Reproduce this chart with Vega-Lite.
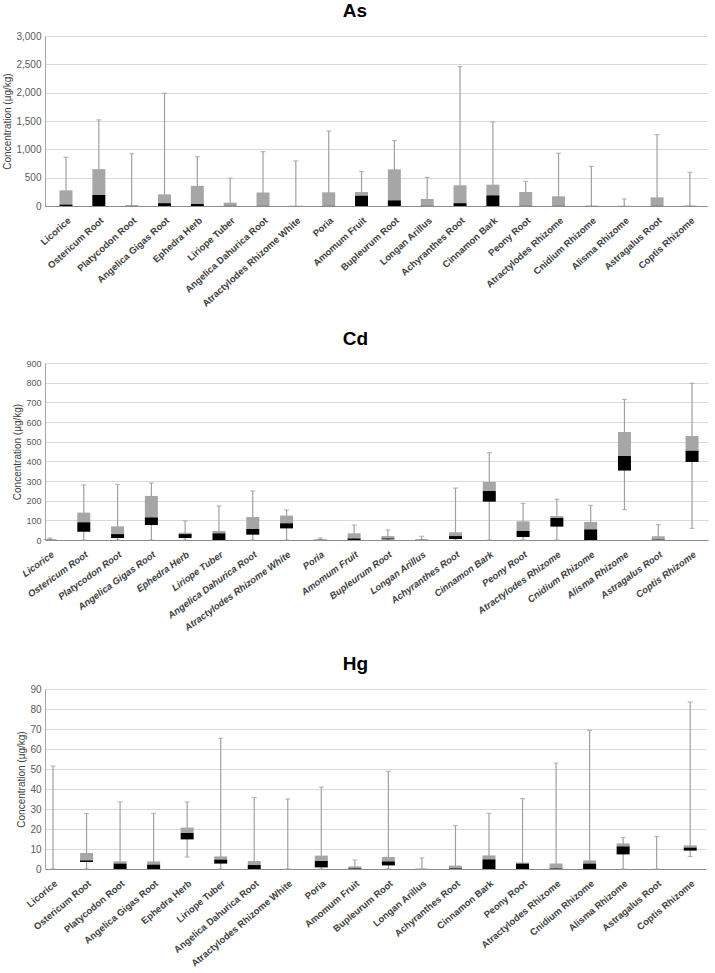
{
  "$schema": "https://vega.github.io/schema/vega-lite/v6.json",
  "padding": {"left": 2, "top": 2, "right": 2, "bottom": 2},
  "background": "white",
  "spacing": 22,
  "datasets": {
    "stats": [
      {"metal": "As", "herb": "Licorice", "min": 0, "q1": 0, "med": 25, "q3": 276, "max": 860},
      {"metal": "As", "herb": "Ostericum Root", "min": 0, "q1": 0, "med": 194, "q3": 650, "max": 1520},
      {"metal": "As", "herb": "Platycodon Root", "min": 0, "q1": 0, "med": 4, "q3": 12, "max": 920},
      {"metal": "As", "herb": "Angelica Gigas Root", "min": 0, "q1": 0, "med": 50, "q3": 206, "max": 1990},
      {"metal": "As", "herb": "Ephedra Herb", "min": 0, "q1": 0, "med": 35, "q3": 355, "max": 870},
      {"metal": "As", "herb": "Liriope Tuber", "min": 0, "q1": 0, "med": 3, "q3": 59, "max": 490},
      {"metal": "As", "herb": "Angelica Dahurica Root", "min": 0, "q1": 0, "med": 3, "q3": 238, "max": 960},
      {"metal": "As", "herb": "Atractylodes Rhizome White", "min": 0, "q1": 0, "med": 2, "q3": 6, "max": 795},
      {"metal": "As", "herb": "Poria", "min": 0, "q1": 0, "med": 3, "q3": 241, "max": 1325},
      {"metal": "As", "herb": "Amomum Fruit", "min": 0, "q1": 0, "med": 182, "q3": 247, "max": 606},
      {"metal": "As", "herb": "Bupleurum Root", "min": 0, "q1": 0, "med": 100, "q3": 647, "max": 1155},
      {"metal": "As", "herb": "Longan Arillus", "min": 0, "q1": 0, "med": 3, "q3": 124, "max": 506},
      {"metal": "As", "herb": "Achyranthes Root", "min": 0, "q1": 0, "med": 50, "q3": 365, "max": 2460},
      {"metal": "As", "herb": "Cinnamon Bark", "min": 0, "q1": 0, "med": 188, "q3": 376, "max": 1480},
      {"metal": "As", "herb": "Peony Root", "min": 0, "q1": 0, "med": 3, "q3": 247, "max": 435},
      {"metal": "As", "herb": "Atractylodes Rhizome", "min": 0, "q1": 0, "med": 3, "q3": 171, "max": 930},
      {"metal": "As", "herb": "Cnidium Rhizome", "min": 0, "q1": 0, "med": 2, "q3": 5, "max": 700},
      {"metal": "As", "herb": "Alisma Rhizome", "min": 0, "q1": 0, "med": 1, "q3": 2, "max": 125},
      {"metal": "As", "herb": "Astragalus Root", "min": 0, "q1": 0, "med": 3, "q3": 153, "max": 1260},
      {"metal": "As", "herb": "Coptis Rhizome", "min": 0, "q1": 0, "med": 2, "q3": 6, "max": 595},

      {"metal": "Cd", "herb": "Licorice", "min": 0, "q1": 0, "med": 1, "q3": 3, "max": 10},
      {"metal": "Cd", "herb": "Ostericum Root", "min": 0, "q1": 42, "med": 90, "q3": 139, "max": 280},
      {"metal": "Cd", "herb": "Platycodon Root", "min": 0, "q1": 10, "med": 30, "q3": 69, "max": 283},
      {"metal": "Cd", "herb": "Angelica Gigas Root", "min": 0, "q1": 76, "med": 115, "q3": 224, "max": 290},
      {"metal": "Cd", "herb": "Ephedra Herb", "min": 0, "q1": 10, "med": 30, "q3": 37, "max": 97},
      {"metal": "Cd", "herb": "Liriope Tuber", "min": 0, "q1": 0, "med": 34, "q3": 46, "max": 173},
      {"metal": "Cd", "herb": "Angelica Dahurica Root", "min": 0, "q1": 27, "med": 56, "q3": 117, "max": 249},
      {"metal": "Cd", "herb": "Atractylodes Rhizome White", "min": 0, "q1": 59, "med": 85, "q3": 124, "max": 153},
      {"metal": "Cd", "herb": "Poria", "min": 0, "q1": 0, "med": 1, "q3": 3, "max": 10},
      {"metal": "Cd", "herb": "Amomum Fruit", "min": 0, "q1": 0, "med": 8, "q3": 34, "max": 76},
      {"metal": "Cd", "herb": "Bupleurum Root", "min": 0, "q1": 3, "med": 8, "q3": 20, "max": 51},
      {"metal": "Cd", "herb": "Longan Arillus", "min": 0, "q1": 0, "med": 1, "q3": 3, "max": 19},
      {"metal": "Cd", "herb": "Achyranthes Root", "min": 0, "q1": 5, "med": 20, "q3": 39, "max": 264},
      {"metal": "Cd", "herb": "Cinnamon Bark", "min": 0, "q1": 195, "med": 249, "q3": 295, "max": 444},
      {"metal": "Cd", "herb": "Peony Root", "min": 0, "q1": 15, "med": 46, "q3": 95, "max": 186},
      {"metal": "Cd", "herb": "Atractylodes Rhizome", "min": 0, "q1": 68, "med": 112, "q3": 122, "max": 207},
      {"metal": "Cd", "herb": "Cnidium Rhizome", "min": 0, "q1": 0, "med": 54, "q3": 92, "max": 176},
      {"metal": "Cd", "herb": "Alisma Rhizome", "min": 154, "q1": 353, "med": 427, "q3": 549, "max": 715},
      {"metal": "Cd", "herb": "Astragalus Root", "min": 0, "q1": 0, "med": 2, "q3": 19, "max": 78},
      {"metal": "Cd", "herb": "Coptis Rhizome", "min": 59, "q1": 397, "med": 454, "q3": 529, "max": 797},

      {"metal": "Hg", "herb": "Licorice", "min": 0, "q1": 0, "med": 0, "q3": 0, "max": 51.5},
      {"metal": "Hg", "herb": "Ostericum Root", "min": 0, "q1": 3.5, "med": 4.3, "q3": 8, "max": 27.7},
      {"metal": "Hg", "herb": "Platycodon Root", "min": 0, "q1": 0, "med": 2.7, "q3": 3.8, "max": 33.5},
      {"metal": "Hg", "herb": "Angelica Gigas Root", "min": 0, "q1": 0, "med": 2.2, "q3": 3.8, "max": 27.8},
      {"metal": "Hg", "herb": "Ephedra Herb", "min": 6, "q1": 14.8, "med": 18, "q3": 20.7, "max": 33.5},
      {"metal": "Hg", "herb": "Liriope Tuber", "min": 0, "q1": 2.7, "med": 4.7, "q3": 6.3, "max": 65.3},
      {"metal": "Hg", "herb": "Angelica Dahurica Root", "min": 0, "q1": 0, "med": 2, "q3": 4, "max": 35.7},
      {"metal": "Hg", "herb": "Atractylodes Rhizome White", "min": 0, "q1": 0, "med": 0, "q3": 0, "max": 35},
      {"metal": "Hg", "herb": "Poria", "min": 0, "q1": 0.8, "med": 4, "q3": 6.7, "max": 41},
      {"metal": "Hg", "herb": "Amomum Fruit", "min": 0, "q1": 0, "med": 0.3, "q3": 1.3, "max": 4.5},
      {"metal": "Hg", "herb": "Bupleurum Root", "min": 0, "q1": 1.8, "med": 3.8, "q3": 6, "max": 48.8},
      {"metal": "Hg", "herb": "Longan Arillus", "min": 0, "q1": 0, "med": 0, "q3": 0.2, "max": 5.5},
      {"metal": "Hg", "herb": "Achyranthes Root", "min": 0, "q1": 0, "med": 0.3, "q3": 1.7, "max": 21.7},
      {"metal": "Hg", "herb": "Cinnamon Bark", "min": 0, "q1": 0, "med": 4.8, "q3": 6.8, "max": 27.8},
      {"metal": "Hg", "herb": "Peony Root", "min": 0, "q1": 0, "med": 2.7, "q3": 3.2, "max": 35.2},
      {"metal": "Hg", "herb": "Atractylodes Rhizome", "min": 0, "q1": 0, "med": 0.3, "q3": 2.8, "max": 53},
      {"metal": "Hg", "herb": "Cnidium Rhizome", "min": 0, "q1": 0, "med": 2.7, "q3": 4.3, "max": 69.3},
      {"metal": "Hg", "herb": "Alisma Rhizome", "min": 0, "q1": 7.3, "med": 11.3, "q3": 12.8, "max": 15.7},
      {"metal": "Hg", "herb": "Astragalus Root", "min": 0, "q1": 0, "med": 0, "q3": 0, "max": 16.3},
      {"metal": "Hg", "herb": "Coptis Rhizome", "min": 6.2, "q1": 9.2, "med": 10.7, "q3": 11.8, "max": 83.5}
    ]
  },
  "vconcat": [
    {
      "title": {"text": "As", "dx": -21},
      "width": 662,
      "height": 170,
      "data": {"name": "stats"},
      "transform": [{"filter": "datum.metal === 'As'"}],
      "encoding": {
        "x": {"field": "herb", "type": "nominal", "sort": null, "title": null, "scale": {"paddingInner": 0.9, "paddingOuter": 0.53, "align": 0.556}, "axis": {"labelFontStyle": "normal", "labelAngle": -42}}
      },
      "layer": [
        {"mark": {"type": "rule", "color": "#a0a0a0", "strokeWidth": 1.2},
         "encoding": {"y": {"field": "min", "type": "quantitative", "title": "Concentration (μg/kg)", "scale": {"domain": [0, 3000]}, "axis": {"values": [0, 500, 1000, 1500, 2000, 2500, 3000], "format": ",.0f", "labelOverlap": false}}, "y2": {"field": "max"}}},
        {"mark": {"type": "tick", "color": "#a0a0a0", "size": 5, "thickness": 1.2},
         "encoding": {"y": {"field": "max", "type": "quantitative", "title": "Concentration (μg/kg)", "scale": {"domain": [0, 3000]}, "axis": {"values": [0, 500, 1000, 1500, 2000, 2500, 3000], "format": ",.0f", "labelOverlap": false}}}},
        {"mark": {"type": "bar", "color": "#a6a6a6", "size": 13},
         "encoding": {"y": {"field": "med", "type": "quantitative", "title": "Concentration (μg/kg)", "scale": {"domain": [0, 3000]}, "axis": {"values": [0, 500, 1000, 1500, 2000, 2500, 3000], "format": ",.0f", "labelOverlap": false}}, "y2": {"field": "q3"}}},
        {"mark": {"type": "bar", "color": "#000000", "size": 13},
         "encoding": {"y": {"field": "q1", "type": "quantitative", "title": "Concentration (μg/kg)", "scale": {"domain": [0, 3000]}, "axis": {"values": [0, 500, 1000, 1500, 2000, 2500, 3000], "format": ",.0f", "labelOverlap": false}}, "y2": {"field": "med"}}}
      ]
    },
    {
      "title": {"text": "Cd", "dx": -21},
      "width": 663,
      "height": 177,
      "data": {"name": "stats"},
      "transform": [{"filter": "datum.metal === 'Cd'"}],
      "encoding": {
        "x": {"field": "herb", "type": "nominal", "sort": null, "title": null, "scale": {"paddingInner": 0.9, "paddingOuter": 0.26, "align": 0.188}, "axis": {"labelFontStyle": "italic", "labelAngle": -36}}
      },
      "layer": [
        {"mark": {"type": "rule", "color": "#a0a0a0", "strokeWidth": 1.2},
         "encoding": {"y": {"field": "min", "type": "quantitative", "title": "Concentration (μg/kg)", "scale": {"domain": [0, 900]}, "axis": {"values": [0, 100, 200, 300, 400, 500, 600, 700, 800, 900], "labelOverlap": false, "labelFontSize": 9}}, "y2": {"field": "max"}}},
        {"mark": {"type": "tick", "color": "#a0a0a0", "size": 5, "thickness": 1.2},
         "encoding": {"y": {"field": "max", "type": "quantitative", "title": "Concentration (μg/kg)", "scale": {"domain": [0, 900]}, "axis": {"values": [0, 100, 200, 300, 400, 500, 600, 700, 800, 900], "labelOverlap": false, "labelFontSize": 9}}}},
        {"mark": {"type": "tick", "color": "#a0a0a0", "size": 5, "thickness": 1.2},
         "encoding": {"y": {"field": "min", "type": "quantitative", "title": "Concentration (μg/kg)", "scale": {"domain": [0, 900]}, "axis": {"values": [0, 100, 200, 300, 400, 500, 600, 700, 800, 900], "labelOverlap": false, "labelFontSize": 9}}}},
        {"mark": {"type": "bar", "color": "#a6a6a6", "size": 13},
         "encoding": {"y": {"field": "med", "type": "quantitative", "title": "Concentration (μg/kg)", "scale": {"domain": [0, 900]}, "axis": {"values": [0, 100, 200, 300, 400, 500, 600, 700, 800, 900], "labelOverlap": false, "labelFontSize": 9}}, "y2": {"field": "q3"}}},
        {"mark": {"type": "bar", "color": "#000000", "size": 13},
         "encoding": {"y": {"field": "q1", "type": "quantitative", "title": "Concentration (μg/kg)", "scale": {"domain": [0, 900]}, "axis": {"values": [0, 100, 200, 300, 400, 500, 600, 700, 800, 900], "labelOverlap": false, "labelFontSize": 9}}, "y2": {"field": "med"}}}
      ]
    },
    {
      "title": {"text": "Hg", "dx": -20},
      "width": 661,
      "height": 180,
      "data": {"name": "stats"},
      "transform": [{"filter": "datum.metal === 'Hg'"}],
      "encoding": {
        "x": {"field": "herb", "type": "nominal", "sort": null, "title": null, "scale": {"paddingInner": 0.9, "paddingOuter": 0.305, "align": 0.31}, "axis": {"labelFontStyle": "normal", "labelAngle": -40}}
      },
      "layer": [
        {"mark": {"type": "rule", "color": "#a0a0a0", "strokeWidth": 1.2},
         "encoding": {"y": {"field": "min", "type": "quantitative", "title": "Concentration (μg/kg)", "scale": {"domain": [0, 90]}, "axis": {"values": [0, 10, 20, 30, 40, 50, 60, 70, 80, 90], "labelOverlap": false}}, "y2": {"field": "max"}}},
        {"mark": {"type": "tick", "color": "#a0a0a0", "size": 5, "thickness": 1.2},
         "encoding": {"y": {"field": "max", "type": "quantitative", "title": "Concentration (μg/kg)", "scale": {"domain": [0, 90]}, "axis": {"values": [0, 10, 20, 30, 40, 50, 60, 70, 80, 90], "labelOverlap": false}}}},
        {"mark": {"type": "tick", "color": "#a0a0a0", "size": 5, "thickness": 1.2},
         "encoding": {"y": {"field": "min", "type": "quantitative", "title": "Concentration (μg/kg)", "scale": {"domain": [0, 90]}, "axis": {"values": [0, 10, 20, 30, 40, 50, 60, 70, 80, 90], "labelOverlap": false}}}},
        {"mark": {"type": "bar", "color": "#a6a6a6", "size": 13},
         "encoding": {"y": {"field": "med", "type": "quantitative", "title": "Concentration (μg/kg)", "scale": {"domain": [0, 90]}, "axis": {"values": [0, 10, 20, 30, 40, 50, 60, 70, 80, 90], "labelOverlap": false}}, "y2": {"field": "q3"}}},
        {"mark": {"type": "bar", "color": "#000000", "size": 13},
         "encoding": {"y": {"field": "q1", "type": "quantitative", "title": "Concentration (μg/kg)", "scale": {"domain": [0, 90]}, "axis": {"values": [0, 10, 20, 30, 40, 50, 60, 70, 80, 90], "labelOverlap": false}}, "y2": {"field": "med"}}}
      ]
    }
  ],
  "config": {
    "font": "Liberation Sans",
    "view": {"stroke": null},
    "title": {"fontSize": 19, "fontWeight": "bold", "color": "#000000", "anchor": "middle", "offset": 10},
    "axisY": {"gridColor": "#d9d9d9", "domainColor": "#a6a6a6", "ticks": false, "labelColor": "#595959", "labelFontSize": 10, "labelPadding": 4, "titleFontSize": 10, "titleFontWeight": "normal", "titleColor": "#404040", "titlePadding": 3},
    "axisX": {"domainColor": "#8c8c8c", "ticks": false, "labelColor": "#404040", "labelFontSize": 9.5, "labelFontWeight": "bold", "labelPadding": 9, "grid": false}
  }
}
